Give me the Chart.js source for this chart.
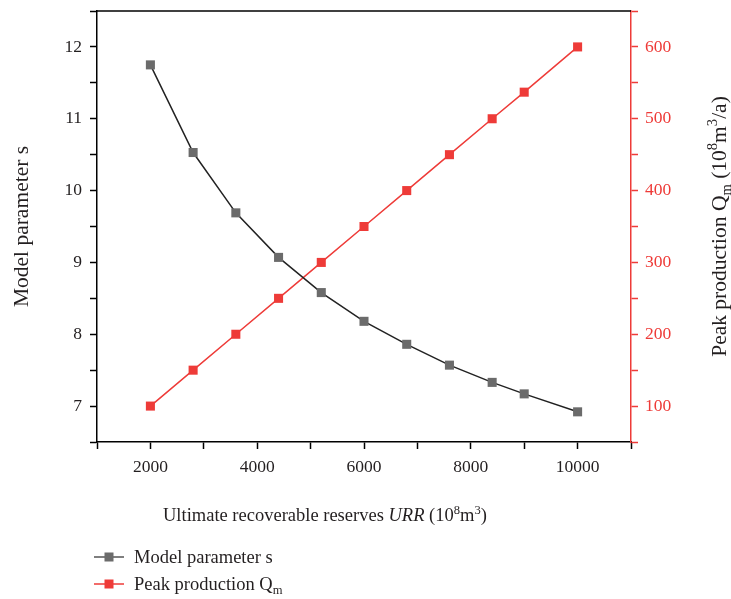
<!DOCTYPE html>
<html>
<head>
<meta charset="utf-8">
<script src="https://cdn.jsdelivr.net/npm/chart.js@4/dist/chart.umd.min.js"></script>
<style>
    html, body { margin: 0; padding: 0; background: #fff; }
    #wrap { width: 731px; height: 599px; }
</style>
</head>
<body>
<div id="wrap"><canvas id="chart" width="731" height="599"></canvas></div>
<script>
// Data
const urr = [2000, 2800, 3600, 4400, 5200, 6000, 6800, 7600, 8400, 9000, 10000];
const paramS = [11.75, 10.53, 9.69, 9.07, 8.58, 8.18, 7.86, 7.57, 7.33, 7.17, 6.92];
const peakQ = [100, 150, 200, 250, 300, 350, 400, 450, 500, 537, 600];
const xTicks = [2000, 4000, 6000, 8000, 10000];
const sTicks = [7, 8, 9, 10, 11, 12];
const qTicks = [100, 200, 300, 400, 500, 600];

const FONT = "'Liberation Serif', 'DejaVu Serif', serif";
const TEXT = '#231f20';
const RED = '#ee3b38';
const GRAY = '#6b6b6b';

// rich text pieces: {t, i: italic, s: 'sup' | 'sub'}
function drawRich(ctx, parts, x, y, size, align) {
    const fontOf = p => (p.i ? 'italic ' : '') + (p.s ? size * 0.68 : size) + 'px ' + FONT;
    let total = 0;
    parts.forEach(p => { ctx.font = fontOf(p); total += ctx.measureText(p.t).width; });
    let cx = align === 'center' ? x - total / 2 : x;
    ctx.textAlign = 'left';
    ctx.textBaseline = 'alphabetic';
    parts.forEach(p => {
        ctx.font = fontOf(p);
        let dy = 0;
        if (p.s === 'sup') dy = -size * 0.4;
        if (p.s === 'sub') dy = size * 0.22;
        ctx.fillText(p.t, cx, y + dy);
        cx += ctx.measureText(p.t).width;
    });
}

const xTitle = [
    { t: 'Ultimate recoverable reserves ' }, { t: 'URR', i: true }, { t: ' (10' },
    { t: '8', s: 'sup' }, { t: 'm' }, { t: '3', s: 'sup' }, { t: ')' }
];
const yTitle = [{ t: 'Model parameter s' }];
const y2Title = [
    { t: 'Peak production Q' }, { t: 'm', s: 'sub' }, { t: ' (10' }, { t: '8', s: 'sup' },
    { t: 'm' }, { t: '3', s: 'sup' }, { t: '/a)' }
];
const legendRows = [
    { parts: [{ t: 'Model parameter s' }], line: '#555', mark: GRAY },
    { parts: [{ t: 'Peak production Q' }, { t: 'm', s: 'sub' }], line: RED, mark: RED }
];

const decorPlugin = {
    id: 'decor',
    afterDraw(chart) {
        const ctx = chart.ctx;
        const a = chart.chartArea;
        ctx.save();
        // top frame line
        ctx.strokeStyle = '#000';
        ctx.lineWidth = 1.5;
        ctx.beginPath();
        ctx.moveTo(a.left, a.top);
        ctx.lineTo(a.right, a.top);
        ctx.stroke();

        ctx.fillStyle = TEXT;
        drawRich(ctx, xTitle, 163, 521, 18.5, 'left');

        const midY = (a.top + a.bottom) / 2;
        ctx.save();
        ctx.translate(28, midY);
        ctx.rotate(-Math.PI / 2);
        drawRich(ctx, yTitle, 0, 0, 21.5, 'center');
        ctx.restore();

        ctx.save();
        ctx.translate(726, midY);
        ctx.rotate(-Math.PI / 2);
        drawRich(ctx, y2Title, 0, 0, 21.5, 'center');
        ctx.restore();

        // legend
        legendRows.forEach((row, i) => {
            const y = 557 + i * 27;
            ctx.strokeStyle = row.line;
            ctx.lineWidth = 1.5;
            ctx.beginPath();
            ctx.moveTo(94, y);
            ctx.lineTo(124, y);
            ctx.stroke();
            ctx.fillStyle = row.mark;
            ctx.fillRect(109 - 4.5, y - 4.5, 9, 9);
            ctx.fillStyle = TEXT;
            drawRich(ctx, row.parts, 134, y + 6, 18.5, 'left');
        });
        ctx.restore();
    }
};

const tickFont = { family: FONT, size: 17.5 };

// keep the plot box fixed: no extra padding for overhanging labels
function noPad(s) {
    s.paddingTop = 0;
    s.paddingBottom = 0;
    s.paddingLeft = 0;
    s.paddingRight = 0;
}

new Chart(document.getElementById('chart'), {
    type: 'scatter',
    data: {
        datasets: [
            {
                label: 'Model parameter s',
                data: urr.map((x, i) => ({ x: x, y: paramS[i] })),
                yAxisID: 'y',
                showLine: true,
                borderColor: '#222',
                borderWidth: 1.5,
                pointStyle: 'rect',
                pointRadius: 6.4,
                pointBackgroundColor: GRAY,
                pointBorderWidth: 0
            },
            {
                label: 'Peak production Qm',
                data: urr.map((x, i) => ({ x: x, y: peakQ[i] })),
                yAxisID: 'y2',
                showLine: true,
                borderColor: RED,
                borderWidth: 1.5,
                pointStyle: 'rect',
                pointRadius: 6.4,
                pointBackgroundColor: RED,
                pointBorderWidth: 0
            }
        ]
    },
    options: {
        responsive: false,
        animation: false,
        layout: { padding: { top: 11, bottom: 97, left: 0, right: 0 } },
        plugins: { legend: { display: false }, tooltip: { enabled: false } },
        scales: {
            x: {
                type: 'linear',
                min: 1000,
                max: 11000,
                afterFit: s => { s.height = 60; noPad(s); },
                afterBuildTicks: s => {
                    s.ticks = [];
                    for (let v = 1000; v <= 11000; v += 1000) s.ticks.push({ value: v });
                },
                ticks: {
                    font: tickFont,
                    color: TEXT,
                    padding: 8,
                    maxRotation: 0,
                    autoSkip: false,
                    callback: v => xTicks.includes(v) ? String(v) : ''
                },
                grid: { drawOnChartArea: false, tickLength: 7, tickColor: '#000', tickWidth: 1.5 },
                border: { color: '#000', width: 1.5 }
            },
            y: {
                position: 'left',
                min: 6.5,
                max: 12.5,
                afterFit: s => { s.width = 97; noPad(s); },
                afterBuildTicks: s => {
                    s.ticks = [];
                    for (let v = 6.5; v <= 12.5; v += 0.5) s.ticks.push({ value: v });
                },
                ticks: {
                    font: tickFont,
                    color: TEXT,
                    padding: 8,
                    autoSkip: false,
                    callback: v => sTicks.includes(v) ? String(v) : ''
                },
                grid: { drawOnChartArea: false, tickLength: 7, tickColor: '#000', tickWidth: 1.5 },
                border: { color: '#000', width: 1.5 }
            },
            y2: {
                position: 'right',
                min: 50,
                max: 650,
                afterFit: s => { s.width = 100; noPad(s); },
                afterBuildTicks: s => {
                    s.ticks = [];
                    for (let v = 50; v <= 650; v += 50) s.ticks.push({ value: v });
                },
                ticks: {
                    font: tickFont,
                    color: RED,
                    padding: 7,
                    autoSkip: false,
                    callback: v => qTicks.includes(v) ? String(v) : ''
                },
                grid: { drawOnChartArea: false, tickLength: 7, tickColor: RED, tickWidth: 1.5 },
                border: { color: RED, width: 1.5 }
            }
        }
    },
    plugins: [decorPlugin]
});
</script>
</body>
</html>
